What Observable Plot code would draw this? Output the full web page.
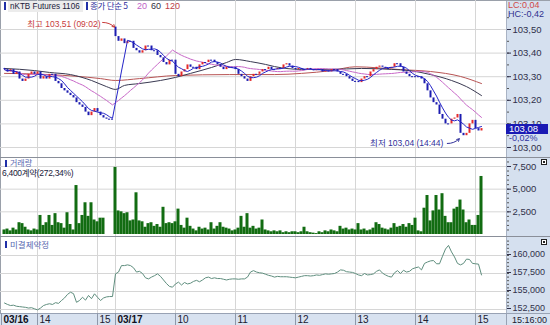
<!DOCTYPE html>
<html><head><meta charset="utf-8">
<script src="https://cdn.jsdelivr.net/npm/d3@7"></script>
<script src="https://cdn.jsdelivr.net/npm/@observablehq/plot@0.6"></script>
<style>
html,body{margin:0;padding:0;background:#fff;}
#chart{position:relative;width:550px;height:325px;overflow:hidden;font-family:"Liberation Sans",Arial,"Noto Sans CJK KR",sans-serif;font-size:9px;background:#fff;}
#chart svg{position:absolute;left:0;}
.abs{position:absolute;white-space:nowrap;line-height:1;}
.narrow{transform:scaleX(0.9);transform-origin:left center;}
</style></head><body><div id="chart"></div>
<script>
// ---------- DATA (3-minute bars, index 0..159; 03/16 13:27 .. 03/17 15:06) ----------
const closes = [
  103.33,103.32,103.33,103.31,103.32,103.29,103.28,103.29,103.31,103.32,
  103.31,103.32,103.29,103.30,103.29,103.31,103.31,103.28,103.27,103.25,
  103.24,103.23,103.22,103.21,103.19,103.18,103.17,103.15,103.135,103.15,
  103.165,103.15,103.135,103.125,103.12,103.12,103.12,
  103.47,103.45,103.46,103.44,103.45,103.45,103.42,103.41,103.40,103.41,
  103.43,103.43,103.41,103.41,103.39,103.38,103.36,103.35,103.37,103.37,
  103.31,103.30,103.32,103.33,103.35,103.34,103.34,103.33,103.35,103.36,
  103.36,103.37,103.37,103.36,103.35,103.34,103.33,103.34,103.34,103.34,
  103.33,103.31,103.30,103.29,103.28,103.30,103.31,103.31,103.32,103.33,
  103.33,103.34,103.33,103.33,103.335,103.335,103.35,103.355,103.345,103.335,
  103.33,103.335,103.33,103.33,103.335,103.33,103.325,103.33,103.33,103.32,
  103.325,103.32,103.33,103.33,103.32,103.31,103.31,103.30,103.29,103.28,
  103.28,103.275,103.29,103.30,103.30,103.32,103.33,103.34,103.345,103.34,
  103.335,103.335,103.34,103.355,103.355,103.34,103.32,103.31,103.30,103.30,
  103.30,103.30,103.29,103.27,103.24,103.21,103.19,103.18,103.14,103.12,
  103.10,103.10,103.12,103.125,103.14,103.06,103.05,103.06,103.10,103.115,
  103.08,103.07,103.08
];
const sessionStart = [0, 37];
const sessionOpens = [103.335, 103.51];

const volumes = [
  500,600,400,700,500,1300,1200,800,500,400,
  600,500,2100,1000,1300,2100,1000,2300,1300,1200,
  700,2400,1100,500,5400,1200,2100,3500,2000,3500,
  1600,1400,1800,1800,0,0,0,
  7400,2600,2500,2300,2400,1500,1600,4600,1500,1400,
  800,1200,1300,900,1100,800,3000,1200,1300,1200,
  1400,2800,1000,700,1800,900,600,400,800,600,
  700,500,1300,600,900,1300,800,700,600,400,
  500,700,2000,800,2300,700,900,600,700,1600,
  500,400,300,400,300,400,200,300,200,300,
  300,200,300,800,300,200,150,100,300,200,
  400,300,500,400,300,900,600,700,500,600,
  500,1200,500,600,400,500,700,1300,1100,700,
  600,500,700,1200,800,900,1100,800,1200,1000,
  1800,400,300,2900,4300,1500,2600,4300,2700,4500,
  2000,1300,1300,2800,3000,3800,2700,1300,1600,1000,
  1000,2100,6400
];

const openInterest = [
  153400,153200,153050,153100,152950,152900,152850,152800,152700,152750,
  152600,152450,152700,153050,153200,153300,153200,153450,153350,153750,
  154100,154600,154900,154700,153500,153750,154200,153800,154450,154000,
  154680,154200,153750,154100,154250,154300,154300,
  157450,157700,158600,158600,158700,158600,158300,157700,157800,157500,
  156900,156750,157000,157200,157450,157100,156600,156100,155700,155600,
  156050,156300,155900,156250,156050,156150,156400,156550,156350,156600,
  156900,157000,156800,156900,156800,156800,156700,156600,156700,156750,
  156750,156700,156750,156750,157000,157700,157900,157700,157600,157550,
  157400,157250,157150,157000,157100,157050,157050,157050,157000,156950,
  156900,157000,157100,157200,157200,157150,157200,157300,157250,157350,
  157450,157400,157450,157500,157700,158000,157950,157750,157700,157650,
  157500,157300,157200,157500,157300,157350,157450,157800,158000,157550,
  157300,157100,157000,157600,157900,157500,157950,157700,157800,158150,
  158300,158400,158000,158900,159100,159250,159300,158850,158850,159900,
  160900,161400,160500,159800,158900,158700,158900,159500,159450,158900,
  158850,158800,157300
];

// moving averages 60 / 120 (bar index, price)
const ma60Index = [0,10,15,22,29,34,37,40,45,52,57,62,69,74,77,82,87,90,99,109,119,129,135,142,149,154,159];
const ma60Value = [103.335,103.326,103.318,103.309,103.284,103.258,103.246,103.263,103.271,103.284,103.297,103.314,103.339,103.360,103.373,103.364,103.352,103.343,103.331,103.331,103.335,103.331,103.326,103.309,103.284,103.258,103.220];
const ma120Index = [0,15,32,37,45,57,75,90,99,109,117,132,142,152,159];
const ma120Value = [103.314,103.309,103.292,103.284,103.292,103.305,103.309,103.309,103.314,103.326,103.342,103.330,103.322,103.301,103.271];

const priceTicks = [103.0,103.1,103.2,103.3,103.4,103.5];
const volTicks = [2500,5000,7500];
const oiTicks = [152500,155000,157500,160000];
const hourTickIdx = [11,31,57,77,97,117,137,157];
const hourTickLabels = ["14","15","10","11","12","13","14","15"];
const dateTickIdx = [-1,37];
const dateTickLabels = ["03/16","03/17"];

const highMark = {i:37, price:103.51, label:"최고 103,51 (09:02)"};
const lowMark = {i:152, price:103.04, label:"최저 103,04 (14:44)"};
const lastPrice = {price:103.08, value:"103,08", change:"-0,02%"};
const volumeInfo = "6,400계약(272,34%)";
const timeLabel = "15:16:00";
const lcHc = ["LC:0,04","HC:-0,42"];

// ---------- BUILD ----------
const bars = closes.map((c,i)=>{
  const s = sessionStart.indexOf(i);
  const open = s >= 0 ? sessionOpens[s] : closes[i-1];
  return {i, open, close:c, vol:volumes[i], oi:openInterest[i]};
});
const ma60 = ma60Index.map((i,k)=>({i, v:ma60Value[k]}));
const ma120 = ma120Index.map((i,k)=>({i, v:ma120Value[k]}));
const allTicks = dateTickIdx.concat(hourTickIdx);
const hourLabel = new Map(hourTickIdx.map((t,k)=>[t,hourTickLabels[k]]));
const dateLabel = new Map(dateTickIdx.map((t,k)=>[t,dateTickLabels[k]]));

const X_DOMAIN = [-4/3, 502/3];
const FONT = '"Liberation Sans", Arial, "Noto Sans CJK KR", sans-serif';
const STYLE = {background:"transparent", fontFamily:FONT, fontSize:"9.5px", color:"#30304a", overflow:"visible"};
const GRID = "#d6d6d6";
const UP = "#e42a2a", DOWN = "#1c1cb0";
const fmtPrice = d => d.toFixed(2).replace(".", ",");
const fmtInt = d3.format(",");
const gridXMark = () => Plot.gridX(allTicks.filter(t=>t>=0), {stroke:GRID, strokeOpacity:1});
const minorAxis = (values) => Plot.axisY(values, {anchor:"right", tickSize:2, stroke:"#555", fill:"none", label:null});

const chart = document.getElementById("chart");

function box(left, top, w, h, css){
  const d = document.createElement("div");
  d.className = "abs";
  Object.assign(d.style, {left:left+"px", top:top+"px", width:w+"px", height:h+"px"}, css);
  chart.appendChild(d); return d;
}
box(506,0,44,313,{background:"#d5e0ef", borderLeft:"1px solid #a9b3c4", boxSizing:"border-box"});
box(0,313,550,12,{background:"#d8e2f0", borderTop:"1px solid #98a2b4", boxSizing:"border-box"});
box(0,0,1,313,{background:"#9aa0aa"});
box(0,0,550,1,{background:"#9aa0aa"});

// Panel 1: price
const p1 = Plot.plot({
  width:550, height:157, marginLeft:0, marginRight:44, marginTop:0, marginBottom:0,
  style:STYLE,
  x:{domain:X_DOMAIN, axis:null, label:null},
  y:{domain:[103.0,103.5], range:[147,29], axis:null, label:null},
  marks:[
    Plot.gridY(priceTicks, {stroke:GRID, strokeOpacity:1}),
    gridXMark(),
    Plot.line(ma120, {x:"i", y:"v", stroke:"#b85454", strokeWidth:1, curve:"monotone-x"}),
    Plot.line(ma60, {x:"i", y:"v", stroke:"#3a3a52", strokeWidth:1, curve:"monotone-x"}),
    Plot.lineY(bars, Plot.windowY({k:20, anchor:"end"}, {x:"i", y:"close", stroke:"#c868c8", strokeWidth:1})),
    Plot.ruleX(bars.filter(d=>d.close>d.open), {x:"i", y1:"open", y2:"close", stroke:UP, strokeWidth:2}),
    Plot.ruleX(bars.filter(d=>d.close<d.open), {x:"i", y1:"open", y2:"close", stroke:DOWN, strokeWidth:2}),
    Plot.ruleY(bars.filter(d=>d.close===d.open), {y:"close", x1:d=>d.i-0.35, x2:d=>d.i+0.35, stroke:DOWN}),
    Plot.lineY(bars, Plot.windowY({k:5, anchor:"end"}, {x:"i", y:"close", stroke:"#2424c8", strokeWidth:1})),
    minorAxis(d3.range(103.0,103.56,0.05)),
    Plot.axisY(priceTicks, {anchor:"right", tickSize:4, tickPadding:2, tickFormat:fmtPrice, color:"#30304a", fontSize:9.5, label:null}),
    Plot.text([highMark], {x:d=>d.i-5, y:d=>d.price, text:"label", textAnchor:"end", dy:-3, fill:"#c83c3c", fontSize:8.5}),
    Plot.arrow([highMark], {x1:d=>d.i-4.3, y1:d=>d.price+0.02, x2:d=>d.i-0.3, y2:d=>d.price, bend:true, stroke:"#c83c3c", strokeWidth:1, headLength:4}),
    Plot.text([lowMark], {x:d=>d.i-5.7, y:d=>d.price-0.023, text:"label", textAnchor:"end", fill:"#30309a", fontSize:8.5}),
    Plot.arrow([lowMark], {x1:d=>d.i-4.4, y1:d=>d.price-0.023, x2:d=>d.i-0.4, y2:d=>d.price-0.003, bend:-22.5, stroke:"#30309a", strokeWidth:1, headLength:4})
  ]
});
p1.style.top = "0px";
chart.appendChild(p1);

// Panel 2: volume
const p2 = Plot.plot({
  width:550, height:78, marginLeft:0, marginRight:44, marginTop:0, marginBottom:0,
  style:STYLE,
  x:{domain:X_DOMAIN, axis:null, label:null},
  y:{domain:[0,7500], range:[76,8], axis:null, label:null},
  marks:[
    Plot.gridY(volTicks, {stroke:GRID, strokeOpacity:1}),
    gridXMark(),
    Plot.rect(bars, {x1:d=>d.i-0.5, x2:d=>d.i+0.5, y1:0, y2:"vol", fill:"#126c12"}),
    minorAxis(d3.range(500,8001,500)),
    Plot.axisY(volTicks, {anchor:"right", tickSize:4, tickPadding:2, tickFormat:fmtInt, color:"#30304a", fontSize:9.5, label:null})
  ]
});
p2.style.top = "158px";
chart.appendChild(p2);

// Panel 3: open interest + time axis
const p3 = Plot.plot({
  width:550, height:88, marginLeft:0, marginRight:44, marginTop:0, marginBottom:12,
  style:STYLE,
  x:{domain:X_DOMAIN, axis:null, label:null},
  y:{domain:[152500,160000], range:[72,18], axis:null, label:null},
  marks:[
    Plot.gridY(oiTicks, {stroke:GRID, strokeOpacity:1}),
    gridXMark(),
    Plot.line(bars, {x:"i", y:"oi", stroke:"#5f8e7e", strokeWidth:1}),
    minorAxis(d3.range(153000,162001,500)),
    Plot.axisY(oiTicks, {anchor:"right", tickSize:4, tickPadding:2, tickFormat:fmtInt, color:"#30304a", fontSize:9, dy:-1, label:null}),
    Plot.axisX(allTicks, {anchor:"bottom", tickSize:12, stroke:"#8e98aa", fill:"none", label:null}),
    Plot.axisX(hourTickIdx, {anchor:"bottom", tickSize:0, tickPadding:2, tickFormat:d=>hourLabel.get(d), textAnchor:"start", dx:2, color:"#202030", fontSize:10, label:null}),
    Plot.axisX(dateTickIdx, {anchor:"bottom", tickSize:0, tickPadding:2, tickFormat:d=>dateLabel.get(d), textAnchor:"start", dx:2, color:"#101020", fontSize:10, fontWeight:"bold", label:null})
  ]
});
p3.style.top = "237px";
chart.appendChild(p3);

// separators
box(0,157,550,1,{background:"#8a8f99"});
box(0,236,550,1,{background:"#8a8f99"});
box(506,313,1,12,{background:"#98a2b4"});

function label(text, left, top, css, cls){
  const d = document.createElement("div");
  d.className = "abs" + (cls ? " " + cls : "");
  d.textContent = text;
  Object.assign(d.style, {left:left+"px", top:top+"px"}, css||{});
  chart.appendChild(d); return d;
}
// title and legend
box(4,2,2,8,{background:"#2030a8"});
box(8,1,75,11,{background:"#ececec"});
label("nKTB Futures 1106", 10, 2, {color:"#20203a", fontSize:"9px"}, "narrow");
box(86,2,2,8,{background:"#2030a8"});
label("종가 단순 5", 90, 1, {color:"#3030a0", fontSize:"8.5px", fontFamily:'"Noto Sans CJK KR", sans-serif', letterSpacing:"-0.3px"});
label("20", 137, 2, {color:"#c060c8", fontSize:"9px"});
label("60", 151, 2, {color:"#303040", fontSize:"9px"});
label("120", 165, 2, {color:"#c04048", fontSize:"9px"});
label(lcHc[0], 508, 1, {color:"#d04848", fontSize:"9px"});
label(lcHc[1], 508, 10, {color:"#303090", fontSize:"9px"});

// last price badge
const yb = p1.scale("y").apply(lastPrice.price);
label(lastPrice.value, 506, Math.round(yb)-4, {background:"#1a1ab4", color:"#fff", width:"42px", height:"10px", fontSize:"9.5px", paddingLeft:"3px", boxSizing:"border-box"});
label(lastPrice.change, 509, Math.round(yb)+6, {color:"#3030a0", fontSize:"9px"});

// volume panel labels
box(5,160,2,7,{background:"#2030a8"});
label("거래량", 10, 159, {color:"#5868b0", fontSize:"8px", fontFamily:'"Noto Sans CJK KR", sans-serif'});
label(volumeInfo, 2, 169, {color:"#20203a", fontSize:"8.5px", letterSpacing:"-0.3px"});
// OI panel label
box(5,241,2,7,{background:"#2030a8"});
label("미결제약정", 10, 240, {color:"#5868b0", fontSize:"8.5px", fontFamily:'"Noto Sans CJK KR", sans-serif'});
// small panel buttons
box(541,159,6,6,{background:"#222", border:"1px solid #222", boxShadow:"inset 0 0 0 1px #fff", boxSizing:"border-box"});
box(541,239,6,6,{background:"#222", border:"1px solid #222", boxShadow:"inset 0 0 0 1px #fff", boxSizing:"border-box"});
// time label
label(timeLabel, 512, 316, {color:"#202030", fontSize:"9px"});
</script></body></html>
